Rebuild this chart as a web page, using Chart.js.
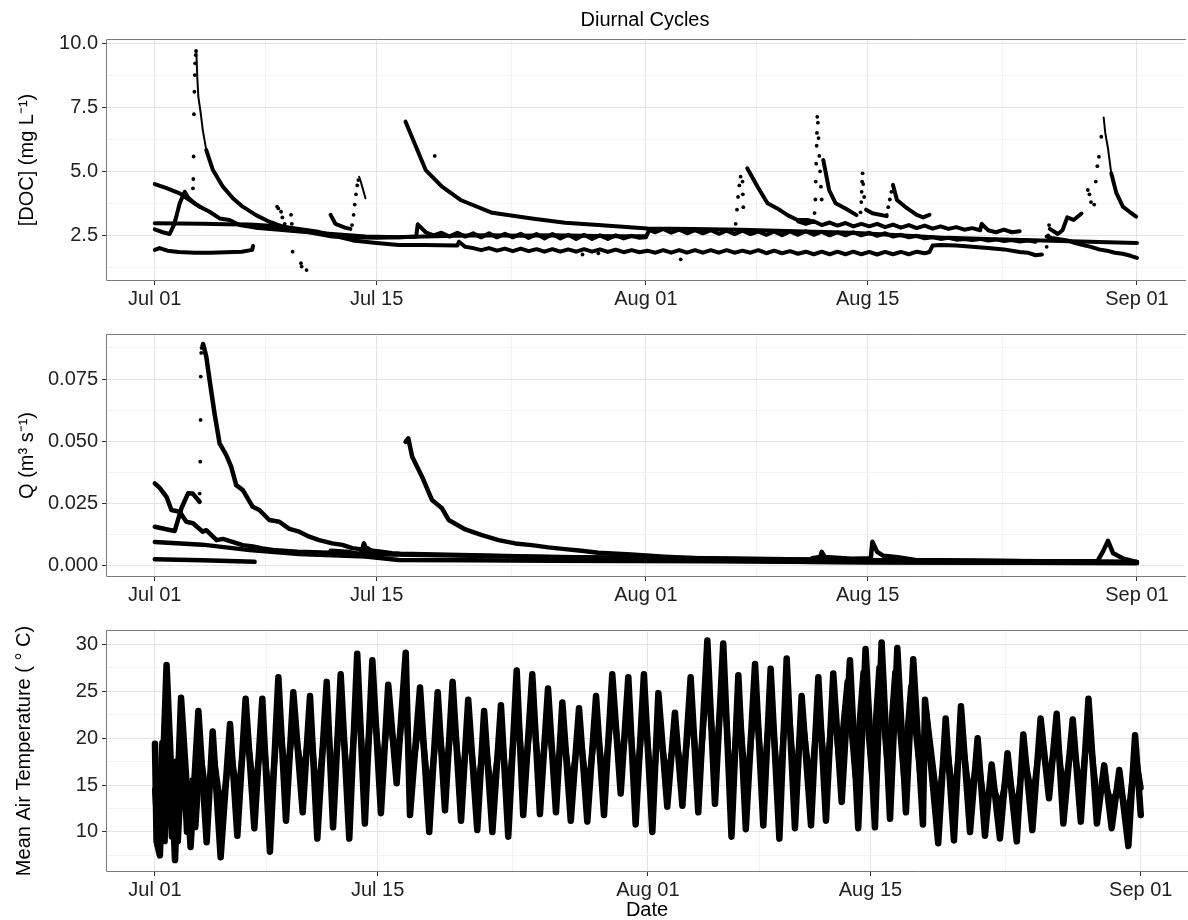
<!DOCTYPE html>
<html>
<head>
<meta charset="utf-8">
<script src="https://cdn.jsdelivr.net/npm/chart.js@4.4.1/dist/chart.umd.min.js"></script>
<style>
  html, body { margin: 0; padding: 0; background: #fff; }
  #wrap { position: relative; width: 1188px; height: 920px; overflow: hidden; }
  canvas { position: absolute; left: 0; }
</style>
</head>
<body>
<div id="wrap">
  <canvas id="docChart" width="1188" height="310" style="top:0px"></canvas>
  <canvas id="flowChart" width="1188" height="300" style="top:310px"></canvas>
  <canvas id="tempChart" width="1188" height="310" style="top:610px"></canvas>
</div>
<script>
// ---- Date axis (days since 1 July) ----
const dateTickDays = [0, 14, 31, 45, 62];
const dateTickLabels = ['Jul 01', 'Jul 15', 'Aug 01', 'Aug 15', 'Sep 01'];
const dateMinorDays = [7, 22.5, 38, 53.5];

// ---- Value axes ----
const docTicks = [2.5, 5, 7.5, 10];
const docMinor = [1.25, 3.75, 6.25, 8.75];
const flowTicks = [0, 0.025, 0.05, 0.075];
const flowMinor = [0.0125, 0.0375, 0.0625, 0.0875];
const tempTicks = [10, 15, 20, 25, 30];
const tempMinor = [7.5, 12.5, 17.5, 22.5, 27.5];

// ---- DOC (mg/L), [day, value] ----
const docSiteA = [[0,4.50],[0.74,4.34],[1.57,4.14],[2.2,3.88],[2.83,3.62],[3.46,3.42],[4.09,3.16],[4.72,3.10],[5.35,2.90],
  [6.35,2.80],[7.86,2.72],[9.12,2.65],[11.2,2.55],[13.3,2.45],[15.4,2.42],[16.5,2.45],[16.6,2.93],[17.1,2.62],
  [17.6,2.50],[18.1,2.60],[18.6,2.45],[19.1,2.60],[19.6,2.45],[20.1,2.58],[20.6,2.42],[21.1,2.58],[21.6,2.42],
  [22.1,2.56],[22.6,2.42],[23.1,2.56],[23.6,2.40],[24.1,2.55],[24.6,2.38],[25.1,2.55],[25.6,2.38],[26.1,2.52],
  [26.6,2.36],[27.1,2.52],[27.6,2.36],[28.1,2.50],[28.6,2.36],[29.1,2.50],[29.6,2.38],[30.1,2.48],[30.6,2.40],
  [31.0,2.42],[31.2,2.70],[31.6,2.62],[32.1,2.75],[32.6,2.60],[33.1,2.72],[33.6,2.58],[34.1,2.70],[34.6,2.58],
  [35.1,2.70],[35.6,2.56],[36.1,2.68],[36.6,2.55],[37.1,2.68],[37.6,2.55],[38.1,2.65],[38.6,2.52],[39.1,2.65],
  [39.6,2.50],[40.1,2.65],[40.6,2.52],[41.1,2.66],[41.6,2.52],[42.1,2.64],[42.6,2.50],[43.1,2.62],[43.6,2.50],
  [44.1,2.62],[44.6,2.50],[45.1,2.60],[45.6,2.48],[46.1,2.58],[46.6,2.45],[47.1,2.52],[47.6,2.42],[48.1,2.48],
  [48.6,2.38],[49.1,2.42],[49.6,2.36],[50.1,2.40],[50.6,2.33],[51.1,2.36],[51.6,2.32],[52.1,2.36],[52.6,2.30],
  [53.1,2.34],[53.6,2.28],[54.1,2.32],[54.6,2.26],[55.1,2.30],[55.6,2.25]];
const docSiteB = [[0,2.97],[1.5,2.96],[3,2.95],[4.5,2.93],[6,2.92],[7,2.88],[8,2.85],[9.1,2.75],[10.2,2.65],
  [11.2,2.50],[12.5,2.30],[14,2.20],[15.4,2.12],[17,2.12],[19.1,2.10],[19.2,2.25],[19.6,2.05],[20.1,2.00],
  [20.6,1.92],[21.1,2.00],[21.6,1.90],[22.1,1.98],[22.6,1.88],[23.1,1.98],[23.6,1.88],[24.1,1.96],[24.6,1.86],
  [25.1,1.96],[25.6,1.86],[26.1,1.95],[26.6,1.86],[27.1,1.96],[27.6,1.86],[28.1,1.95],[28.6,1.85],[29.1,1.94],
  [29.6,1.84],[30.1,1.92],[30.6,1.84],[31.1,1.90],[31.6,1.82],[32.1,1.92],[32.6,1.82],[33.1,1.92],[33.6,1.82],
  [34.1,1.92],[34.6,1.82],[35.1,1.92],[35.6,1.82],[36.1,1.92],[36.6,1.82],[37.1,1.90],[37.6,1.82],[38.1,1.92],
  [38.6,1.80],[39.1,1.90],[39.6,1.80],[40.1,1.88],[40.6,1.78],[41.1,1.86],[41.6,1.76],[42.1,1.86],[42.6,1.76],
  [43.1,1.86],[43.6,1.76],[44.1,1.86],[44.6,1.76],[45.1,1.85],[45.6,1.75],[46.1,1.85],[46.6,1.76],[47.1,1.85],
  [47.6,1.76],[48.1,1.86],[48.6,1.80],[48.9,1.85],[49.1,2.10],[49.6,2.12],[50.6,2.10],[51.6,2.05],[52.6,2.00],
  [53.6,1.95],[54.6,1.85],[55.1,1.82],[55.6,1.72],[56.0,1.75]];
const docSiteC = [[0,2.73],[0.5,2.62],[0.94,2.55],[1.2,2.90],[1.36,3.23],[1.57,3.75],[1.89,4.20],[2.1,3.98],[2.5,3.75],[2.83,3.62]];
const docSiteDPeak = [[2.62,9.74],[2.68,8.70],[2.75,7.91],[2.9,7.26],[3.03,6.61],[3.25,5.83]];
const docSiteD = [[3.25,5.83],[3.67,5.05],[4.3,4.40],[4.93,3.95],[5.55,3.62],
  [6.39,3.29],[7.23,3.03],[8.07,2.84],[9.12,2.70],[10.17,2.57],[11.2,2.45],[12.5,2.42],[14,2.40],[15.4,2.42],
  [17,2.45],[19,2.48],[21,2.50],[23,2.48],[25,2.50],[27,2.48],[29,2.46],[31,2.46]];
const docSiteE = [[0,1.93],[0.3,2.00],[0.8,1.90],[1.5,1.85],[2.5,1.82],[3.5,1.82],[4.5,1.84],[5.5,1.86],[6.15,1.93],[6.2,2.08]];
const docSiteF = [[11.1,3.30],[11.4,2.95],[12.0,2.80],[12.35,2.75]];
const docSiteFPeak = [[12.9,4.79],[13.0,4.60],[13.3,3.95]];
const docSiteG = [[15.83,6.94],[17.1,5.05],[18.13,4.40],[19.3,3.88],[21.3,3.38],[23.8,3.16],[25.9,2.99],[27.99,2.90],
  [31.1,2.77],[34,2.75],[37,2.72],[41,2.65],[44,2.60],[47,2.50],[50,2.40],[53,2.35],[56,2.30],[59,2.25],[62,2.20]];
const docSiteH1 = [[37.4,5.12],[38.05,4.40],[38.68,3.75],[39.3,3.55],[39.94,3.29],[40.57,3.10],[41.2,3.10],[41.6,3.02]];
const docSiteH2 = [[42.2,5.44],[42.57,4.27],[42.98,3.75],[43.6,3.55],[44.3,3.29]];
const docSiteH3 = [[44.9,3.50],[45.3,3.36],[46.2,3.25]];
const docSiteH4 = [[46.6,4.47],[46.85,3.88],[47.5,3.55],[48.1,3.30],[48.5,3.20],[48.9,3.30]];
const docSiteK = [[40.6,3.05],[41.1,2.95],[41.6,3.05],[42.1,2.90],[42.6,3.00],[43.1,2.88],[43.6,2.98],[44.1,2.85],
  [44.6,2.95],[45.1,2.85],[45.6,2.95],[46.1,2.82],[46.6,2.92],[47.1,2.80],[47.6,2.90],[48.1,2.78],[48.6,2.88],
  [49.1,2.76],[49.6,2.85],[50.1,2.75],[50.6,2.82],[51.1,2.72],[51.6,2.78],[52.1,2.70],[52.2,2.95],[52.6,2.70],
  [53.1,2.62],[53.6,2.72],[54.1,2.62],[54.6,2.66]];
const docSiteIPeak = [[59.9,7.10],[60.0,6.50],[60.17,5.90],[60.38,4.92]];
const docSiteI = [[56.5,2.75],[57.0,2.55],[57.3,2.70],[57.6,3.20],[58.0,3.10],[58.5,3.35]];
const docSiteIDecay = [[60.38,4.92],[60.69,4.17],[61.11,3.62],[61.53,3.42],[61.95,3.23]];
const docSiteJ = [[56.3,2.45],[56.6,2.40],[57.1,2.35],[57.6,2.30],[58.1,2.20],[58.6,2.12],[59.1,2.05],[59.6,1.95],
  [60.1,1.90],[60.6,1.82],[61.1,1.78],[61.6,1.70],[62.0,1.62]];
// rapid-change readings shown as separate samples
const docSamples = [[2.41,4.33],[2.43,4.70],[2.45,5.58],[2.47,7.23],[2.5,8.11],[2.52,8.76],[2.55,9.22],[2.58,9.54],[2.6,9.70],
  [7.72,3.62],[7.8,3.55],[7.97,3.42],[8.05,3.20],[8.2,2.95],[8.3,2.75],[8.6,3.30],[8.65,2.95],
  [8.7,1.86],[9.23,1.41],[9.27,1.28],[9.58,1.14],
  [12.45,2.90],[12.55,3.30],[12.62,3.70],[12.7,4.10],[12.78,4.45],[12.85,4.66],
  [17.67,5.60],[27.0,1.75],[28.0,1.80],[33.2,1.56],
  [36.67,2.95],[36.75,3.50],[36.82,4.00],[36.9,4.45],[36.98,4.79],[37.1,4.60],[37.12,4.10],[37.15,3.60],
  [41.65,3.37],[41.7,3.90],[41.72,4.60],[41.75,5.30],[41.78,6.00],[41.8,6.50],[41.82,7.13],[41.86,6.90],
  [41.9,6.30],[41.95,5.60],[42.0,5.00],[42.05,4.40],[42.1,3.90],
  [44.55,3.40],[44.6,3.80],[44.62,4.20],[44.65,4.60],[44.68,4.92],[44.72,4.50],[44.78,4.00],
  [46.2,3.30],[46.3,3.60],[46.4,3.90],[46.5,4.20],[56.3,2.05],
  [56.4,2.50],[56.45,2.90],[58.9,4.27],[59.0,4.10],[59.1,3.80],[59.3,3.70],[59.4,4.60],[59.5,5.20],[59.6,5.57],[59.75,6.35]];

// ---- Discharge Q (m3/s), [day, value] ----
const flowSiteA = [[0,0.0331],[0.31,0.0313],[0.74,0.0277],[1.05,0.0224],[1.57,0.0217],[1.99,0.0177],[2.41,0.0171],
  [3.03,0.0137],[3.25,0.0143],[3.9,0.0103],[4.3,0.0108],[5.55,0.0083],[6.2,0.0078],[6.8,0.0070],[7.65,0.0062],
  [9,0.0056],[12,0.0050],[15,0.0045],[20,0.0040],[25,0.0035],[30,0.0032],[35,0.0030],[40,0.0026],[45,0.0022],
  [50,0.0020],[55,0.0018],[62,0.0015]];
const flowSiteB = [[0,0.0157],[0.94,0.0144],[1.26,0.0140],[1.68,0.0231],[2.1,0.0291],[2.4,0.0290],[2.83,0.0257]];
const flowSiteC = [[0,0.0096],[3,0.0085],[6,0.0063],[9.1,0.0047],[13.3,0.0037],[15.4,0.0023],[20,0.0022],[25,0.0020],
  [30,0.0019],[35,0.0018],[40,0.0016],[45,0.0014],[50,0.0013],[55,0.0012],[62,0.0010]];
const flowSiteD = [[0,0.0026],[3,0.0022],[6.3,0.0016]];
const flowSiteE = [[3.05,0.0891],[3.25,0.0840],[3.46,0.0746],[3.77,0.0612],[4.09,0.0492],[4.51,0.0445],[4.82,0.0398],
  [5.14,0.0324],[5.56,0.0304],[6.18,0.0237],[6.6,0.0224],[7.23,0.0184],[7.86,0.0177],[8.49,0.0148],[9.12,0.0137],
  [9.75,0.0117],[10.38,0.0103],[11.2,0.0090],[11.84,0.0084],[12.47,0.0071],[13.3,0.0064],[14.15,0.0057],
  [14.98,0.0050],[15.5,0.0048],[20,0.0042],[25,0.0035],[31,0.0030],[40,0.0025],[50,0.0020],[62,0.0015]];
const flowSiteF = [[11.1,0.0060],[12.3,0.0055],[13.0,0.0045],[13.2,0.0090],[13.3,0.0075],[14,0.0050]];
const flowSiteG = [[15.83,0.0498],[16.0,0.0512],[16.25,0.0438],[16.87,0.0358],[17.5,0.0264],[18.13,0.0231],
  [18.55,0.0184],[19.6,0.0146],[20.65,0.0123],[21.7,0.0103],[22.75,0.0090],[23.79,0.0083],[24.84,0.0074],
  [25.89,0.0067],[26.94,0.0060],[27.99,0.0052],[30.06,0.0045],[32.18,0.0036],[34.28,0.0030],[36.35,0.0023],
  [38.47,0.0019],[40.57,0.0016],[45,0.0014],[50,0.0013],[55,0.0012],[62,0.0012]];
const flowSiteH = [[41.5,0.0030],[42.0,0.0035],[42.1,0.0056],[42.3,0.0035],[44,0.0028],[45.2,0.0030],[45.3,0.0097],
  [45.6,0.0056],[46.0,0.0040],[46.9,0.0034],[48,0.0023],[52,0.0020],[56,0.0018],[59.5,0.0018],[59.85,0.0057],
  [60.17,0.0100],[60.5,0.0050],[61.1,0.0030],[61.95,0.0016]];
const flowSamples = [[2.83,0.0290],[2.87,0.0418],[2.89,0.0586],[2.9,0.0760],[2.93,0.0855],[2.95,0.0875],[3.0,0.0885]];

// ---- Mean air temperature (deg C), [day, value] ----
const tempSiteA = [[0.00,19.4],[0.10,9.0],[0.31,7.5],[0.73,27.8],[1.26,7.0],[1.64,24.3],[2.24,8.4],[2.73,22.9],
  [3.25,8.9],[3.63,20.7],[4.13,7.3],[4.72,21.5],[5.18,9.6],[5.70,24.2],[6.25,10.4],[6.75,24.2],[7.23,7.9],
  [7.76,26.5],[8.24,11.2],[8.70,24.9],[9.29,12.1],[9.75,24.5],[10.21,9.3],[10.80,26.0],[11.20,10.5],[11.68,26.8],
  [12.22,9.3],[12.72,29.0],[13.20,10.9],[13.67,28.3],[14.21,12.0],[14.67,25.7],[15.20,15.2],[15.77,29.1],
  [16.04,11.8],[16.67,25.4],[17.25,10.0],[17.78,24.9],[18.24,12.3],[18.72,26.0],[19.25,11.2],[19.70,24.1],
  [20.27,10.2],[20.70,22.9],[21.22,10.0],[21.76,23.5],[22.22,9.5],[22.75,27.2],[23.16,11.8],[23.73,26.8],
  [24.21,11.9],[24.72,25.3],[25.22,12.1],[25.62,23.8],[26.15,11.2],[26.67,23.2],[27.19,11.1],[27.74,24.5],
  [28.24,11.8],[28.76,26.8],[29.29,14.1],[29.77,26.5],[30.23,10.8],[30.75,26.8],[31.28,10.0],[31.66,24.8],
  [32.22,12.7],[32.70,22.7],[33.17,12.8],[33.69,26.5],[34.17,12.1],[34.74,30.4],[35.22,13.0],[35.74,30.1],
  [36.26,9.5],[36.69,26.7],[37.16,10.3],[37.74,27.9],[38.26,10.7],[38.72,27.4],[39.27,9.3],[39.73,28.5],
  [40.25,10.4],[40.67,24.5],[41.26,10.7],[41.72,26.5],[42.20,11.2],[42.66,26.9],[43.19,13.2],[43.71,28.3],
  [44.23,10.4],[44.69,29.5],[45.28,10.5],[45.70,30.2],[46.23,11.4],[46.69,29.6],[47.23,12.1],[47.69,28.4],
  [48.30,10.8],[48.43,24.1],[49.26,8.8],[49.73,22.1],[50.25,9.1],[50.69,23.4],[51.26,10.0],[51.74,20.0],
  [52.20,9.6],[52.62,17.2],[53.14,9.3],[53.62,18.4],[54.20,9.0],[54.61,20.4],[55.18,10.2],[55.70,22.1],
  [56.23,13.6],[56.71,22.6],[57.13,10.9],[57.72,22.0],[58.23,11.1],[58.71,24.2],[59.24,10.9],[59.70,17.1],
  [60.17,10.4],[60.65,16.6],[61.22,8.5],[61.64,20.3],[62.00,11.8]];
const tempSiteB = [[0.00,14.5],[0.18,9.5],[0.45,19.5],[0.62,9.0],[0.85,21.0],[1.05,9.5],[1.30,17.5],[1.45,9.0],
  [1.75,19.0],[2.00,10.0],[2.35,15.5],[2.55,10.5],[2.85,18.5],[3.30,13.0],[3.65,18.5],[4.20,12.0],[4.75,19.0],
  [5.20,13.5],[5.72,21.5],[6.25,14.0],[6.78,21.0],[7.25,12.0],[7.78,23.0],[8.25,15.0],[8.72,22.0],[9.30,15.5],
  [9.77,22.0],[10.20,13.0],[10.80,23.0],[11.20,14.5],[11.70,23.5],[12.20,13.5],[12.72,25.0],[13.20,15.0],
  [13.70,25.0],[14.20,15.5],[14.70,23.0],[15.20,17.0],[15.75,25.5],[16.05,15.0],[16.70,22.5],[17.25,13.5],
  [17.80,22.0],[18.25,15.5],[18.75,23.0],[19.25,14.5],[19.72,21.5],[20.25,13.5],[20.72,20.5],[21.20,13.5],
  [21.78,21.0],[22.20,13.0],[22.75,24.0],[23.20,15.0],[23.75,24.0],[24.20,15.0],[24.72,22.5],[25.20,15.0],
  [25.65,21.0],[26.15,14.5],[26.70,21.0],[27.20,14.0],[27.75,22.0],[28.25,15.0],[28.78,24.0],[29.30,16.5],
  [29.78,23.5],[30.25,14.0],[30.77,24.0],[31.28,13.5],[31.68,22.0],[32.20,15.5],[32.72,20.5],[33.20,15.5],
  [33.70,23.5],[34.20,15.0],[34.75,27.0],[35.22,16.5],[35.75,27.0],[36.25,13.5],[36.70,24.0],[37.20,14.0],
  [37.75,25.0],[38.25,14.5],[38.73,24.5],[39.25,13.5],[39.75,25.5],[40.25,14.5],[40.70,22.5],[41.25,14.5],
  [41.73,24.0],[42.20,15.0],[42.68,24.5],[43.05,17.0],[43.55,26.0],[44.05,16.0],[44.55,27.0],[45.10,16.0],
  [45.55,27.5],[46.10,16.5],[46.55,27.0],[47.10,16.0],[47.55,25.5],[48.20,15.0],[48.50,23.0],[49.25,12.5],
  [49.75,20.0],[50.25,13.0],[50.70,21.0],[51.25,13.5],[51.75,18.0],[52.20,12.5],[52.62,15.5],[53.15,12.5],
  [53.62,16.5],[54.20,12.0],[54.62,18.5],[55.20,13.5],[55.70,20.0],[56.22,15.5],[56.72,20.5],[57.15,14.0],
  [57.72,20.0],[58.22,14.0],[58.72,21.5],[59.25,13.5],[59.70,15.5],[60.17,13.0],[60.65,15.0],[61.20,11.5],
  [61.65,18.5],[62.00,14.7]];

// ---- Shared styling ----
const FONT = 'Liberation Sans, Arial, Helvetica, sans-serif';
const TICK_COLOR = '#222';

const lineSet = (pts, w) => ({
  data: pts.map(p => ({ x: p[0], y: p[1] })),
  showLine: true, borderColor: '#000', backgroundColor: '#000', borderWidth: w,
  pointRadius: 0, borderJoinStyle: 'round', borderCapStyle: 'round', tension: 0
});
const dotSet = (pts, r) => ({
  data: pts.map(p => ({ x: p[0], y: p[1] })),
  showLine: false, pointRadius: r, backgroundColor: '#000', borderWidth: 0
});

// panel border: top, left and bottom edges of the plotting area
const panelFrame = {
  id: 'panelFrame',
  afterDraw(chart) {
    const { ctx, chartArea: a } = chart;
    ctx.save();
    ctx.strokeStyle = '#7a7a7a';
    ctx.lineWidth = 1;
    ctx.beginPath();
    ctx.moveTo(a.right + 2, a.top + 0.5);
    ctx.lineTo(a.left + 0.5, a.top + 0.5);
    ctx.lineTo(a.left + 0.5, a.bottom - 0.5);
    ctx.lineTo(a.right + 2, a.bottom - 0.5);
    ctx.stroke();
    ctx.restore();
  }
};

function gridStyle(majors) {
  return {
    color: c => (c.tick && majors.includes(c.tick.value)) ? '#e4e4e4' : '#f3f3f3',
    lineWidth: 1,
    tickLength: 4,
    tickColor: c => (c.tick && majors.includes(c.tick.value)) ? '#333' : 'rgba(0,0,0,0)'
  };
}

function dateAxis(height, showTitle) {
  return {
    type: 'linear', min: -3.08, max: 64.97,
    afterBuildTicks: s => {
      s.ticks = dateTickDays.concat(dateMinorDays).sort((a, b) => a - b).map(v => ({ value: v }));
    },
    afterFit: s => { s.height = height; },
    ticks: {
      autoSkip: false, maxRotation: 0, minRotation: 0, padding: 2, color: TICK_COLOR,
      font: { family: FONT, size: 20 },
      callback: v => { const i = dateTickDays.indexOf(v); return i >= 0 ? dateTickLabels[i] : ''; }
    },
    grid: gridStyle(dateTickDays),
    border: { display: false },
    title: showTitle ? { display: true, text: 'Date', color: '#000',
      font: { family: FONT, size: 20, lineHeight: 1 }, padding: { top: 0, bottom: 0 } } : { display: false }
  };
}

function valueAxis(min, max, majors, minors, decimals, titleText, titlePad) {
  return {
    type: 'linear', min: min, max: max,
    afterBuildTicks: s => {
      s.ticks = majors.concat(minors).sort((a, b) => a - b).map(v => ({ value: v }));
    },
    afterFit: s => { s.width = 106; },
    ticks: {
      autoSkip: false, padding: 4, color: TICK_COLOR,
      font: { family: FONT, size: 20 },
      callback: v => majors.includes(v) ? v.toFixed(decimals) : ''
    },
    grid: gridStyle(majors),
    border: { display: false },
    title: { display: true, text: titleText, color: '#000',
      font: { family: FONT, size: 20, lineHeight: 1 }, padding: { top: titlePad, bottom: 0 } }
  };
}

function makeChart(id, datasets, xAxis, yAxis, topPad, titleOpts) {
  return new Chart(document.getElementById(id), {
    type: 'scatter',
    data: { datasets: datasets },
    options: {
      responsive: false, animation: false, events: [],
      layout: { padding: { top: topPad, left: 0, right: 0, bottom: 0 } },
      scales: { x: xAxis, y: yAxis },
      plugins: { legend: { display: false }, tooltip: { enabled: false }, title: titleOpts }
    },
    plugins: [panelFrame]
  });
}

// DOC panel
makeChart('docChart',
  [docSiteA, docSiteB, docSiteC, docSiteD, docSiteE, docSiteF, docSiteG, docSiteH1, docSiteH2, docSiteH3,
   docSiteH4, docSiteK, docSiteI, docSiteIDecay, docSiteJ].map(s => lineSet(s, 4))
    .concat([docSiteDPeak, docSiteFPeak, docSiteIPeak].map(s => lineSet(s, 2)))
    .concat([dotSet(docSamples, 1.9)]),
  dateAxis(29, false),
  valueAxis(0.715, 10.17, docTicks, docMinor, 1, '[DOC] (mg L\u207B\u00B9)', 17),
  0,
  { display: true, text: 'Diurnal Cycles', fullSize: false, color: '#000',
    font: { family: FONT, size: 20, weight: 'normal', lineHeight: 1 }, padding: { top: 10, bottom: 9 } });

// Discharge panel
makeChart('flowChart',
  [flowSiteA, flowSiteB, flowSiteC, flowSiteD, flowSiteE, flowSiteF, flowSiteG, flowSiteH]
    .map(s => lineSet(s, 4.5)).concat([dotSet(flowSamples, 1.9)]),
  dateAxis(33, false),
  valueAxis(-0.0045, 0.0931, flowTicks, flowMinor, 3, 'Q (m\u00B3 s\u207B\u00B9)', 17),
  24,
  { display: false });

// Temperature panel
makeChart('tempChart',
  [lineSet(tempSiteA, 6.5), lineSet(tempSiteB, 6)],
  dateAxis(48, true),
  valueAxis(5.73, 31.53, tempTicks, tempMinor, 0, 'Mean Air Temperature ( \u00B0 C)', 14),
  20,
  { display: false });
</script>
</body>
</html>
